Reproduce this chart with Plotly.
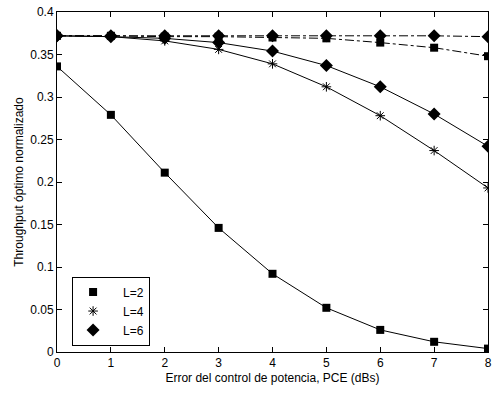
import plotly.graph_objects as go

pce = [0, 1, 2, 3, 4, 5, 6, 7, 8]
l2_solid = [0.336, 0.279, 0.211, 0.146, 0.092, 0.052, 0.026, 0.012, 0.004]
l4_solid = [0.372, 0.371, 0.366, 0.356, 0.339, 0.312, 0.278, 0.237, 0.193]
l6_solid = [0.372, 0.371, 0.369, 0.364, 0.354, 0.337, 0.312, 0.280, 0.242]
l2_dash = [0.372, 0.372, 0.371, 0.371, 0.370, 0.369, 0.364, 0.358, 0.348]
l6_dash = [0.372, 0.372, 0.372, 0.372, 0.372, 0.372, 0.372, 0.372, 0.371]
legend_names = ["L=2", "L=4", "L=6"]

FONT = "Liberation Sans, Arial"
fig = go.Figure()
line_solid = dict(color="black", width=1)
line_dd = dict(color="black", width=1, dash="dashdot")
sq = dict(symbol="square", size=8, color="black")
di = dict(symbol="diamond", size=10, color="black")
ast = dict(symbol="asterisk-open", size=8, color="black", line=dict(color="black", width=1))

fig.add_trace(go.Scatter(x=pce, y=l2_dash, mode="lines+markers", line=line_dd, marker=sq, showlegend=False))
fig.add_trace(go.Scatter(x=pce, y=l6_dash, mode="lines+markers", line=line_dd, marker=di, showlegend=False))
fig.add_trace(go.Scatter(x=pce, y=l2_solid, mode="lines+markers", line=line_solid, marker=sq, showlegend=False))
fig.add_trace(go.Scatter(x=pce, y=l4_solid, mode="lines+markers", line=line_solid, marker=ast, showlegend=False))
fig.add_trace(go.Scatter(x=pce, y=l6_solid, mode="lines+markers", line=line_solid, marker=di, showlegend=False))

for name, mk in zip(legend_names, [sq, ast, di]):
    fig.add_trace(go.Scatter(x=[None], y=[None], mode="markers", marker=mk,
                             name="\u00a0\u00a0\u00a0" + name, showlegend=True))

axis_common = dict(
    showgrid=False, zeroline=False, showline=True, linecolor="black", linewidth=1,
    mirror="ticks", ticks="inside", ticklen=5, tickcolor="black",
    tickfont=dict(family=FONT, size=12, color="black"),
)
fig.update_xaxes(range=[0, 8], dtick=1, title=dict(text="Error del control de potencia, PCE (dBs)",
                 font=dict(family=FONT, size=12, color="black"), standoff=4), **axis_common)
fig.update_yaxes(range=[0, 0.4], dtick=0.05, tickformat="~g",
                 title=dict(text="Throughput óptimo normalizado",
                 font=dict(family=FONT, size=12, color="black"), standoff=4), **axis_common)

fig.update_layout(
    width=497, height=396,
    margin=dict(l=57, r=5, t=9, b=44),
    plot_bgcolor="white", paper_bgcolor="white",
    font=dict(family=FONT, size=12, color="black"),
    legend=dict(x=0.035, y=0.019, xanchor="left", yanchor="bottom",
                bordercolor="black", borderwidth=1, bgcolor="white",
                font=dict(size=12), tracegroupgap=0, itemwidth=30),
)
fig.write_html("out.html")
